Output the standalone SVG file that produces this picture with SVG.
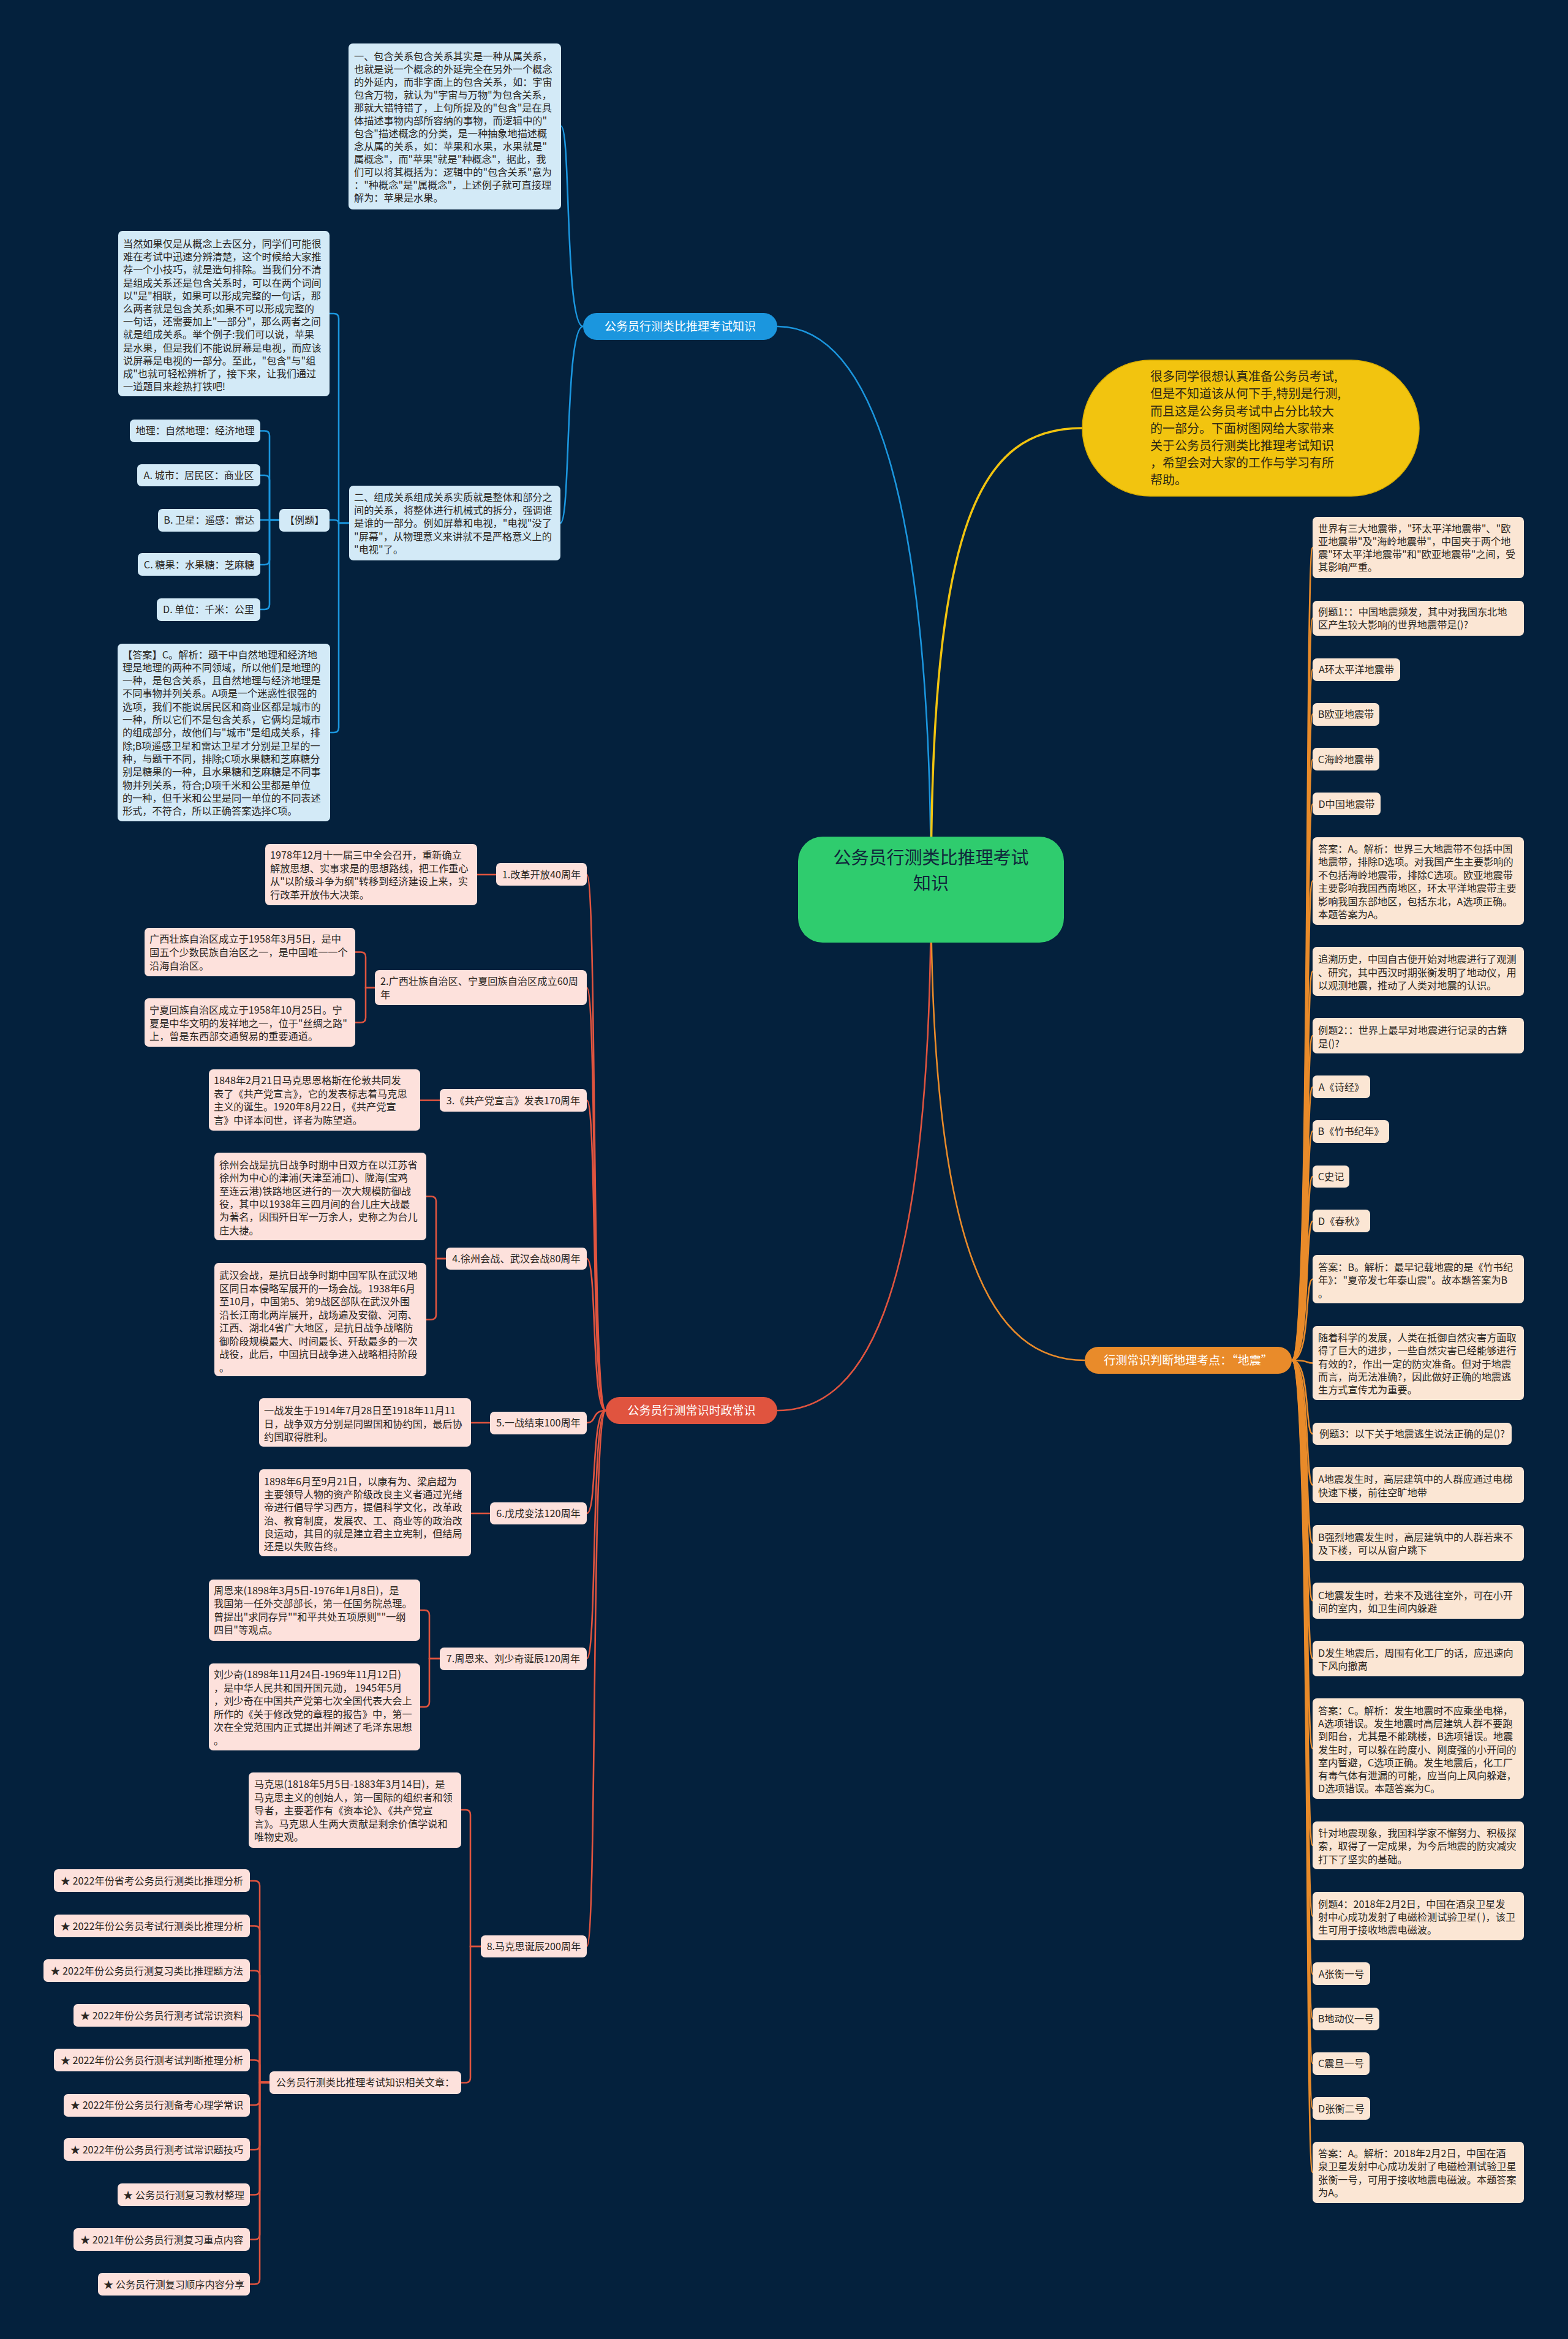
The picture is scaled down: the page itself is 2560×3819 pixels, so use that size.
<svg xmlns="http://www.w3.org/2000/svg" width="2560" height="3819" viewBox="0 0 2560 3819">
<style>
text{font-family:"Noto Sans CJK SC","Noto Sans",sans-serif;font-size:16.2px;fill:#2b2622}
.c{text-anchor:middle}
.bb{fill:#d3eaf7}
.ob{fill:#fbe6d4}
.rb{fill:#fde1dc}
.lb{fill:none;stroke:#1b96de;stroke-width:2.6}
.lo{fill:none;stroke:#e98b2a;stroke-width:2.6}
.lr{fill:none;stroke:#e0543f;stroke-width:2.6}
.ly{fill:none;stroke:#f2c40f;stroke-width:3.5}
.wt{fill:#ffffff;font-size:19px}
</style>
<rect width="2560" height="3819" fill="#04213d"/>
<g id="connectors">
<path class="lb" d="M1520 1452 C1520 800 1420 533 1269 533"/>
<path class="ly" d="M1520 1452 C1520 850 1600 699 1767 699"/>
<path class="lr" d="M1520 1452 C1520 2100 1420 2303 1269 2303"/>
<path class="lo" d="M1520 1452 C1520 2050 1620 2221 1771 2221"/>
<path class="lb" d="M952 533 C922 533 932 206 916 206"/>
<path class="lb" d="M952 533 C922 533 932 854 915 854"/>
<path class="lb" d="M570 854 H553 V520 Q553 512 545 512 H538"/>
<path class="lb" d="M570 854 H553 Q553 849 545 849 H538"/>
<path class="lb" d="M570 854 H553 V1188 Q553 1196 545 1196 H539"/>
<path class="lb" d="M456 849 H440 V711.5 Q440 703.5 432 703.5 H425"/>
<path class="lb" d="M456 849 H440 V784 Q440 776 432 776 H425"/>
<path class="lb" d="M456 849 H425"/>
<path class="lb" d="M456 849 H440 V914 Q440 922 432 922 H425"/>
<path class="lb" d="M456 849 H440 V987 Q440 995 432 995 H425"/>
<g class="lo">
<path d="M2109 2221 C2140 2221 2130 894 2143 894"/>
<path d="M2109 2221 C2140 2221 2130 1009.5 2143 1009.5"/>
<path d="M2109 2221 C2140 2221 2130 1093 2143 1093"/>
<path d="M2109 2221 C2140 2221 2130 1166 2143 1166"/>
<path d="M2109 2221 C2140 2221 2130 1240 2143 1240"/>
<path d="M2109 2221 C2140 2221 2130 1313 2143 1313"/>
<path d="M2109 2221 C2140 2221 2130 1438.5 2143 1438.5"/>
<path d="M2109 2221 C2140 2221 2130 1586 2143 1586"/>
<path d="M2109 2221 C2140 2221 2130 1691 2143 1691"/>
<path d="M2109 2221 C2140 2221 2130 1775 2143 1775"/>
<path d="M2109 2221 C2140 2221 2130 1847 2143 1847"/>
<path d="M2109 2221 C2140 2221 2130 1921 2143 1921"/>
<path d="M2109 2221 C2140 2221 2130 1994 2143 1994"/>
<path d="M2109 2221 C2140 2221 2130 2088.5 2143 2088.5"/>
<path d="M2109 2221 C2140 2221 2130 2225.5 2143 2225.5"/>
<path d="M2109 2221 C2140 2221 2130 2341 2143 2341"/>
<path d="M2109 2221 C2140 2221 2130 2424.5 2143 2424.5"/>
<path d="M2109 2221 C2140 2221 2130 2519.5 2143 2519.5"/>
<path d="M2109 2221 C2140 2221 2130 2613.5 2143 2613.5"/>
<path d="M2109 2221 C2140 2221 2130 2708 2143 2708"/>
<path d="M2109 2221 C2140 2221 2130 2855 2143 2855"/>
<path d="M2109 2221 C2140 2221 2130 3013 2143 3013"/>
<path d="M2109 2221 C2140 2221 2130 3128.5 2143 3128.5"/>
<path d="M2109 2221 C2140 2221 2130 3223 2143 3223"/>
<path d="M2109 2221 C2140 2221 2130 3296 2143 3296"/>
<path d="M2109 2221 C2140 2221 2130 3369 2143 3369"/>
<path d="M2109 2221 C2140 2221 2130 3442.5 2143 3442.5"/>
<path d="M2109 2221 C2140 2221 2130 3547 2143 3547"/>
</g>
<g class="lr">
<path d="M989 2303 C965 2303 975 1428 958 1428"/>
<path d="M989 2303 C965 2303 975 1612.5 958 1612.5"/>
<path d="M989 2303 C965 2303 975 1796.6 958 1796.6"/>
<path d="M989 2303 C965 2303 975 2055 958 2055"/>
<path d="M989 2303 C965 2303 975 2323 958 2323"/>
<path d="M989 2303 C965 2303 975 2471 958 2471"/>
<path d="M989 2303 C965 2303 975 2708 958 2708"/>
<path d="M989 2303 C965 2303 975 3178 958 3178"/>
<path d="M810 1428 H779"/>
<path d="M612 1612.5 H597 V1562.5 Q597 1554.5 589 1554.5 H580"/>
<path d="M612 1612.5 H597 V1661.5 Q597 1669.5 589 1669.5 H580"/>
<path d="M718 1796.6 H686"/>
<path d="M728 2055 H712 V1961.5 Q712 1953.5 704 1953.5 H696"/>
<path d="M728 2055 H712 V2146.5 Q712 2154.5 704 2154.5 H696"/>
<path d="M800 2323 H769"/>
<path d="M800 2471 H769"/>
<path d="M718 2708 H701 V2637 Q701 2629 693 2629 H686"/>
<path d="M718 2708 H701 V2779 Q701 2787 693 2787 H686"/>
<path d="M785 3178 H768 V2963 Q768 2955 760 2955 H753"/>
<path d="M785 3178 H768 V3392.5 Q768 3400.5 760 3400.5 H753"/>
<path d="M440 3400 H424 V3079 Q424 3071 416 3071 H408"/>
<path d="M440 3400 H424 V3152.5 Q424 3144.5 416 3144.5 H408"/>
<path d="M440 3400 H424 V3225.5 Q424 3217.5 416 3217.5 H408"/>
<path d="M440 3400 H424 V3298.5 Q424 3290.5 416 3290.5 H408"/>
<path d="M440 3400 H424 V3371.5 Q424 3363.5 416 3363.5 H408"/>
<path d="M440 3400 H424 V3429 Q424 3437 416 3437 H408"/>
<path d="M440 3400 H424 V3502 Q424 3510 416 3510 H408"/>
<path d="M440 3400 H424 V3575.5 Q424 3583.5 416 3583.5 H408"/>
<path d="M440 3400 H424 V3648.5 Q424 3656.5 416 3656.5 H408"/>
<path d="M440 3400 H424 V3721.5 Q424 3729.5 416 3729.5 H408"/>
</g>
</g>

<g id="center">
<rect x="1303" y="1366" width="434" height="173" rx="40" fill="#2fcc6e"/>
<text class="c" x="1520" style="font-size:29px;fill:#10263b"><tspan x="1520" y="1411">公务员行测类比推理考试</tspan><tspan x="1520" y="1453">知识</tspan></text>
</g>

<g id="intro">
<rect x="1767" y="588" width="550" height="222" rx="111" fill="#f2c40f" stroke="#d9ad00" stroke-width="1.5"/>
<text style="font-size:20px;fill:#2d2816"><tspan x="1878" y="622">很多同学很想认真准备公务员考试,</tspan><tspan x="1878" y="650">但是不知道该从何下手,特别是行测,</tspan><tspan x="1878" y="679">而且这是公务员考试中占分比较大</tspan><tspan x="1878" y="707">的一部分。下面树图网给大家带来</tspan><tspan x="1878" y="735">关于公务员行测类比推理考试知识</tspan><tspan x="1878" y="763">，希望会对大家的工作与学习有所</tspan><tspan x="1878" y="791">帮助。</tspan></text>
</g>

<g id="branch-blue">
<rect x="952" y="511" width="317" height="44" rx="22" fill="#1b96de"/>
<text class="c wt" x="1110.5" y="540">公务员行测类比推理考试知识</text>
</g>
<g id="branch-red">
<rect x="989" y="2281" width="280" height="44" rx="22" fill="#e0543f"/>
<text class="c wt" x="1129" y="2310">公务员行测常识时政常识</text>
</g>
<g id="branch-orange">
<rect x="1771" y="2199" width="338" height="44" rx="22" fill="#e98b2a"/>
<text class="c wt" x="1940" y="2228">行测常识判断地理考点：“地震”</text>
</g>

<g id="b1"><rect class="bb" x="569" y="71" width="347" height="271" rx="7"/>
<text><tspan x="578" y="98">一、包含关系包含关系其实是一种从属关系，</tspan><tspan x="578" y="119">也就是说一个概念的外延完全在另外一个概念</tspan><tspan x="578" y="140">的外延内，而非字面上的包含关系，如：宇宙</tspan><tspan x="578" y="161">包含万物，就认为"宇宙与万物"为包含关系，</tspan><tspan x="578" y="182">那就大错特错了，上句所提及的"包含"是在具</tspan><tspan x="578" y="203">体描述事物内部所容纳的事物，而逻辑中的"</tspan><tspan x="578" y="224">包含"描述概念的分类，是一种抽象地描述概</tspan><tspan x="578" y="245">念从属的关系，如：苹果和水果，水果就是"</tspan><tspan x="578" y="266">属概念"，而"苹果"就是"种概念"，据此，我</tspan><tspan x="578" y="287">们可以将其概括为：逻辑中的"包含关系"意为</tspan><tspan x="578" y="308">："种概念"是"属概念"，上述例子就可直接理</tspan><tspan x="578" y="329">解为：苹果是水果。</tspan></text></g>

<g id="b2"><rect class="bb" x="193" y="377" width="345" height="270" rx="7"/>
<text><tspan x="201" y="404">当然如果仅是从概念上去区分，同学们可能很</tspan><tspan x="201" y="425.2">难在考试中迅速分辨清楚，这个时候给大家推</tspan><tspan x="201" y="446.4">荐一个小技巧，就是造句排除。当我们分不清</tspan><tspan x="201" y="467.6">是组成关系还是包含关系时，可以在两个词间</tspan><tspan x="201" y="488.8">以"是"相联，如果可以形成完整的一句话，那</tspan><tspan x="201" y="510">么两者就是包含关系;如果不可以形成完整的</tspan><tspan x="201" y="531.2">一句话，还需要加上"一部分"，那么两者之间</tspan><tspan x="201" y="552.4">就是组成关系。举个例子:我们可以说，苹果</tspan><tspan x="201" y="573.6">是水果，但是我们不能说屏幕是电视，而应该</tspan><tspan x="201" y="594.8">说屏幕是电视的一部分。至此，"包含"与"组</tspan><tspan x="201" y="616">成"也就可轻松辨析了，接下来，让我们通过</tspan><tspan x="201" y="637.2">一道题目来趁热打铁吧!</tspan></text></g>

<g id="b3"><rect class="bb" x="570" y="793" width="345" height="122" rx="7"/>
<text><tspan x="578" y="818">二、组成关系组成关系实质就是整体和部分之</tspan><tspan x="578" y="839.2">间的关系，将整体进行机械式的拆分，强调谁</tspan><tspan x="578" y="860.4">是谁的一部分。例如屏幕和电视，"电视"没了</tspan><tspan x="578" y="881.6">"屏幕"，从物理意义来讲就不是严格意义上的</tspan><tspan x="578" y="902.8">"电视"了。</tspan></text></g>

<g id="b-liti"><rect class="bb" x="456" y="831" width="82" height="37" rx="7"/><text class="c" x="497" y="855">【例题】</text></g>
<g id="b-q0"><rect class="bb" x="212" y="685" width="213" height="37" rx="7"/><text class="c" x="318.5" y="709">地理：自然地理：经济地理</text></g>
<g id="b-qa"><rect class="bb" x="224" y="758" width="201" height="36" rx="7"/><text class="c" x="324.5" y="782">A. 城市：居民区：商业区</text></g>
<g id="b-qb"><rect class="bb" x="258" y="831" width="167" height="37" rx="7"/><text class="c" x="341.5" y="855">B. 卫星：遥感：雷达</text></g>
<g id="b-qc"><rect class="bb" x="225" y="903" width="200" height="37" rx="7"/><text class="c" x="325" y="928">C. 糖果：水果糖：芝麻糖</text></g>
<g id="b-qd"><rect class="bb" x="256" y="977" width="169" height="37" rx="7"/><text class="c" x="340.5" y="1001">D. 单位：千米：公里</text></g>

<g id="b4"><rect class="bb" x="192" y="1051" width="347" height="290" rx="7"/>
<text><tspan x="200" y="1074.5">【答案】C。解析：题干中自然地理和经济地</tspan><tspan x="200" y="1095.8">理是地理的两种不同领域，所以他们是地理的</tspan><tspan x="200" y="1117.1">一种，是包含关系，且自然地理与经济地理是</tspan><tspan x="200" y="1138.4">不同事物并列关系。A项是一个迷惑性很强的</tspan><tspan x="200" y="1159.7">选项，我们不能说居民区和商业区都是城市的</tspan><tspan x="200" y="1181">一种，所以它们不是包含关系，它俩均是城市</tspan><tspan x="200" y="1202.3">的组成部分，故他们与"城市"是组成关系，排</tspan><tspan x="200" y="1223.6">除;B项遥感卫星和雷达卫星才分别是卫星的一</tspan><tspan x="200" y="1244.9">种，与题干不同，排除;C项水果糖和芝麻糖分</tspan><tspan x="200" y="1266.2">别是糖果的一种，且水果糖和芝麻糖是不同事</tspan><tspan x="200" y="1287.5">物并列关系，符合;D项千米和公里都是单位</tspan><tspan x="200" y="1308.8">的一种，但千米和公里是同一单位的不同表述</tspan><tspan x="200" y="1330.1">形式，不符合，所以正确答案选择C项。</tspan></text></g>

<g id="r1"><rect class="ob" x="2143" y="844" width="345" height="100" rx="7"/>
<text><tspan x="2152" y="869">世界有三大地震带，"环太平洋地震带"、"欧</tspan><tspan x="2152" y="890">亚地震带"及"海岭地震带"，中国夹于两个地</tspan><tspan x="2152" y="911">震"环太平洋地震带"和"欧亚地震带"之间，受</tspan><tspan x="2152" y="932">其影响严重。</tspan></text></g>
<g id="r2"><rect class="ob" x="2143" y="981" width="345" height="57" rx="7"/>
<text><tspan x="2152" y="1005">例题1：：中国地震频发，其中对我国东北地</tspan><tspan x="2152" y="1026">区产生较大影响的世界地震带是()?</tspan></text></g>
<g id="r3"><rect class="ob" x="2143" y="1075" width="143" height="37" rx="7"/><text class="c" x="2214.5" y="1099">A环太平洋地震带</text></g>
<g id="r4"><rect class="ob" x="2143" y="1148" width="109" height="37" rx="7"/><text class="c" x="2197.5" y="1172">B欧亚地震带</text></g>
<g id="r5"><rect class="ob" x="2143" y="1221" width="109" height="37" rx="7"/><text class="c" x="2197.5" y="1246">C海岭地震带</text></g>
<g id="r6"><rect class="ob" x="2143" y="1294" width="111" height="37" rx="7"/><text class="c" x="2198.5" y="1319">D中国地震带</text></g>
<g id="r7"><rect class="ob" x="2143" y="1367" width="345" height="143" rx="7"/>
<text><tspan x="2152" y="1392">答案：A。解析：世界三大地震带不包括中国</tspan><tspan x="2152" y="1413.4">地震带，排除D选项。对我国产生主要影响的</tspan><tspan x="2152" y="1434.8">不包括海岭地震带，排除C选项。欧亚地震带</tspan><tspan x="2152" y="1456.2">主要影响我国西南地区，环太平洋地震带主要</tspan><tspan x="2152" y="1477.6">影响我国东部地区，包括东北，A选项正确。</tspan><tspan x="2152" y="1499">本题答案为A。</tspan></text></g>
<g id="r8"><rect class="ob" x="2143" y="1546" width="345" height="80" rx="7"/>
<text><tspan x="2152" y="1572">追溯历史，中国自古便开始对地震进行了观测</tspan><tspan x="2152" y="1593.5">、研究，其中西汉时期张衡发明了地动仪，用</tspan><tspan x="2152" y="1615">以观测地震，推动了人类对地震的认识。</tspan></text></g>
<g id="r9"><rect class="ob" x="2143" y="1662" width="345" height="58" rx="7"/>
<text><tspan x="2152" y="1688">例题2：：世界上最早对地震进行记录的古籍</tspan><tspan x="2152" y="1709.5">是()?</tspan></text></g>
<g id="r10"><rect class="ob" x="2143" y="1756" width="94" height="37" rx="7"/><text class="c" x="2190" y="1781">A《诗经》</text></g>
<g id="r11"><rect class="ob" x="2143" y="1829" width="125" height="37" rx="7"/><text class="c" x="2205.5" y="1853">B《竹书纪年》</text></g>
<g id="r12"><rect class="ob" x="2143" y="1903" width="60" height="36" rx="7"/><text class="c" x="2173" y="1927">C史记</text></g>
<g id="r13"><rect class="ob" x="2143" y="1975" width="94" height="37" rx="7"/><text class="c" x="2190" y="2000">D《春秋》</text></g>
<g id="r14"><rect class="ob" x="2143" y="2049" width="345" height="79" rx="7"/>
<text><tspan x="2152" y="2075">答案：B。解析：最早记载地震的是《竹书纪</tspan><tspan x="2152" y="2096.4">年》："夏帝发七年泰山震"。故本题答案为B</tspan><tspan x="2152" y="2117.8">。</tspan></text></g>
<g id="r15"><rect class="ob" x="2143" y="2165" width="345" height="121" rx="7"/>
<text><tspan x="2152" y="2190">随着科学的发展，人类在抵御自然灾害方面取</tspan><tspan x="2152" y="2211.3">得了巨大的进步，一些自然灾害已经能够进行</tspan><tspan x="2152" y="2232.6">有效的?，作出一定的防灾准备。但对于地震</tspan><tspan x="2152" y="2253.9">而言，尚无法准确?，因此做好正确的地震逃</tspan><tspan x="2152" y="2275.2">生方式宣传尤为重要。</tspan></text></g>
<g id="r16"><rect class="ob" x="2143" y="2323" width="325" height="36" rx="7"/><text class="c" x="2305.5" y="2347">例题3：以下关于地震逃生说法正确的是()?</text></g>
<g id="r17"><rect class="ob" x="2143" y="2395" width="345" height="59" rx="7"/>
<text><tspan x="2152" y="2421">A地震发生时，高层建筑中的人群应通过电梯</tspan><tspan x="2152" y="2442.5">快速下楼，前往空旷地带</tspan></text></g>
<g id="r18"><rect class="ob" x="2143" y="2490" width="345" height="59" rx="7"/>
<text><tspan x="2152" y="2516">B强烈地震发生时，高层建筑中的人群若来不</tspan><tspan x="2152" y="2537">及下楼，可以从窗户跳下</tspan></text></g>
<g id="r19"><rect class="ob" x="2143" y="2584" width="345" height="59" rx="7"/>
<text><tspan x="2152" y="2610.6">C地震发生时，若来不及逃往室外，可在小开</tspan><tspan x="2152" y="2632">间的室内，如卫生间内躲避</tspan></text></g>
<g id="r20"><rect class="ob" x="2143" y="2679" width="345" height="58" rx="7"/>
<text><tspan x="2152" y="2704.6">D发生地震后，周围有化工厂的话，应迅速向</tspan><tspan x="2152" y="2726">下风向撤离</tspan></text></g>
<g id="r21"><rect class="ob" x="2143" y="2773" width="345" height="164" rx="7"/>
<text><tspan x="2152" y="2799">答案：C。解析：发生地震时不应乘坐电梯，</tspan><tspan x="2152" y="2820.2">A选项错误。发生地震时高层建筑人群不要跑</tspan><tspan x="2152" y="2841.4">到阳台，尤其是不能跳楼，B选项错误。地震</tspan><tspan x="2152" y="2862.6">发生时，可以躲在跨度小、刚度强的小开间的</tspan><tspan x="2152" y="2883.8">室内暂避，C选项正确。发生地震后，化工厂</tspan><tspan x="2152" y="2905">有毒气体有泄漏的可能，应当向上风向躲避，</tspan><tspan x="2152" y="2926.2">D选项错误。本题答案为C。</tspan></text></g>
<g id="r22"><rect class="ob" x="2143" y="2974" width="345" height="78" rx="7"/>
<text><tspan x="2152" y="2999">针对地震现象，我国科学家不懈努力、积极探</tspan><tspan x="2152" y="3020.3">索，取得了一定成果，为今后地震的防灾减灾</tspan><tspan x="2152" y="3041.6">打下了坚实的基础。</tspan></text></g>
<g id="r23"><rect class="ob" x="2143" y="3089" width="345" height="79" rx="7"/>
<text><tspan x="2152" y="3114.6">例题4：2018年2月2日，中国在酒泉卫星发</tspan><tspan x="2152" y="3136">射中心成功发射了电磁检测试验卫星( )，该卫</tspan><tspan x="2152" y="3157">生可用于接收地震电磁波。</tspan></text></g>
<g id="r24"><rect class="ob" x="2143" y="3204" width="94" height="37" rx="7"/><text class="c" x="2190" y="3229">A张衡一号</text></g>
<g id="r25"><rect class="ob" x="2143" y="3278" width="109" height="37" rx="7"/><text class="c" x="2197.5" y="3302">B地动仪一号</text></g>
<g id="r26"><rect class="ob" x="2143" y="3351" width="93" height="37" rx="7"/><text class="c" x="2189.5" y="3375">C震旦一号</text></g>
<g id="r27"><rect class="ob" x="2143" y="3424" width="94" height="37" rx="7"/><text class="c" x="2190" y="3448.5">D张衡二号</text></g>
<g id="r28"><rect class="ob" x="2143" y="3497" width="345" height="100" rx="7"/>
<text><tspan x="2152" y="3522">答案：A。解析：2018年2月2日，中国在酒</tspan><tspan x="2152" y="3543.4">泉卫星发射中心成功发射了电磁检测试验卫星</tspan><tspan x="2152" y="3564.8">张衡一号，可用于接收地震电磁波。本题答案</tspan><tspan x="2152" y="3586.2">为A。</tspan></text></g>

<g id="t1"><rect class="rb" x="433" y="1378" width="346" height="100" rx="7"/>
<text><tspan x="441" y="1402">1978年12月十一届三中全会召开，重新确立</tspan><tspan x="441" y="1423.5">解放思想、实事求是的思想路线，把工作重心</tspan><tspan x="441" y="1445">从"以阶级斗争为纲"转移到经济建设上来，实</tspan><tspan x="441" y="1466.5">行改革开放伟大决策。</tspan></text></g>
<g id="n1"><rect class="rb" x="810" y="1409" width="148" height="37" rx="7"/><text class="c" x="884" y="1434">1.改革开放40周年</text></g>
<g id="t2a"><rect class="rb" x="236" y="1515" width="344" height="79" rx="7"/>
<text><tspan x="244" y="1539">广西壮族自治区成立于1958年3月5日，是中</tspan><tspan x="244" y="1561">国五个少数民族自治区之一，是中国唯一一个</tspan><tspan x="244" y="1583">沿海自治区。</tspan></text></g>
<g id="t2b"><rect class="rb" x="236" y="1630" width="344" height="79" rx="7"/>
<text><tspan x="244" y="1655">宁夏回族自治区成立于1958年10月25日。宁</tspan><tspan x="244" y="1676.5">夏是中华文明的发祥地之一，位于"丝绸之路"</tspan><tspan x="244" y="1698">上，曾是东西部交通贸易的重要通道。</tspan></text></g>
<g id="n2"><rect class="rb" x="612" y="1584" width="346" height="57" rx="7"/>
<text><tspan x="621" y="1608">2.广西壮族自治区、宁夏回族自治区成立60周</tspan><tspan x="621" y="1629.5">年</tspan></text></g>
<g id="t3"><rect class="rb" x="341" y="1746" width="345" height="100" rx="7"/>
<text><tspan x="349" y="1770">1848年2月21日马克思恩格斯在伦敦共同发</tspan><tspan x="349" y="1791.6">表了《共产党宣言》，它的发表标志着马克思</tspan><tspan x="349" y="1813.2">主义的诞生。1920年8月22日，《共产党宣</tspan><tspan x="349" y="1834.8">言》中译本问世，译者为陈望道。</tspan></text></g>
<g id="n3"><rect class="rb" x="718" y="1778" width="240" height="37" rx="7"/><text class="c" x="838" y="1802.6">3.《共产党宣言》发表170周年</text></g>
<g id="t4a"><rect class="rb" x="350" y="1882" width="346" height="143" rx="7"/>
<text><tspan x="358" y="1908">徐州会战是抗日战争时期中日双方在以江苏省</tspan><tspan x="358" y="1929.3">徐州为中心的津浦(天津至浦口)、陇海(宝鸡</tspan><tspan x="358" y="1950.6">至连云港)铁路地区进行的一次大规模防御战</tspan><tspan x="358" y="1971.9">役，其中以1938年三四月间的台儿庄大战最</tspan><tspan x="358" y="1993.2">为著名，因围歼日军一万余人，史称之为台儿</tspan><tspan x="358" y="2014.5">庄大捷。</tspan></text></g>
<g id="n4"><rect class="rb" x="728" y="2037" width="230" height="36" rx="7"/><text class="c" x="843" y="2061">4.徐州会战、武汉会战80周年</text></g>
<g id="t4b"><rect class="rb" x="350" y="2062" width="346" height="185" rx="7"/>
<text><tspan x="358" y="2088">武汉会战，是抗日战争时期中国军队在武汉地</tspan><tspan x="358" y="2109.5">区同日本侵略军展开的一场会战。1938年6月</tspan><tspan x="358" y="2131">至10月，中国第5、第9战区部队在武汉外围</tspan><tspan x="358" y="2152.5">沿长江南北两岸展开，战场遍及安徽、河南、</tspan><tspan x="358" y="2174">江西、湖北4省广大地区，是抗日战争战略防</tspan><tspan x="358" y="2195.5">御阶段规模最大、时间最长、歼敌最多的一次</tspan><tspan x="358" y="2217">战役，此后，中国抗日战争进入战略相持阶段</tspan><tspan x="358" y="2238.5">。</tspan></text></g>
<g id="t5"><rect class="rb" x="423" y="2283" width="346" height="79" rx="7"/>
<text><tspan x="431" y="2309">一战发生于1914年7月28日至1918年11月11</tspan><tspan x="431" y="2330.5">日，战争双方分别是同盟国和协约国，最后协</tspan><tspan x="431" y="2352">约国取得胜利。</tspan></text></g>
<g id="n5"><rect class="rb" x="800" y="2305" width="158" height="37" rx="7"/><text class="c" x="879" y="2329">5.一战结束100周年</text></g>
<g id="t6"><rect class="rb" x="423" y="2399" width="346" height="142" rx="7"/>
<text><tspan x="431" y="2425">1898年6月至9月21日，以康有为、梁启超为</tspan><tspan x="431" y="2446.2">主要领导人物的资产阶级改良主义者通过光绪</tspan><tspan x="431" y="2467.4">帝进行倡导学习西方，提倡科学文化，改革政</tspan><tspan x="431" y="2488.6">治、教育制度，发展农、工、商业等的政治改</tspan><tspan x="431" y="2509.8">良运动，其目的就是建立君主立宪制，但结局</tspan><tspan x="431" y="2531">还是以失败告终。</tspan></text></g>
<g id="n6"><rect class="rb" x="800" y="2453" width="158" height="36" rx="7"/><text class="c" x="879" y="2477">6.戊戌变法120周年</text></g>
<g id="t7a"><rect class="rb" x="341" y="2579" width="345" height="100" rx="7"/>
<text><tspan x="349" y="2603">周恩来(1898年3月5日-1976年1月8日)，是</tspan><tspan x="349" y="2624.3">我国第一任外交部部长，第一任国务院总理。</tspan><tspan x="349" y="2645.6">曾提出"求同存异""和平共处五项原则""一纲</tspan><tspan x="349" y="2666.9">四目"等观点。</tspan></text></g>
<g id="n7"><rect class="rb" x="718" y="2690" width="240" height="37" rx="7"/><text class="c" x="838" y="2714">7.周恩来、刘少奇诞辰120周年</text></g>
<g id="t7b"><rect class="rb" x="341" y="2716" width="345" height="142" rx="7"/>
<text><tspan x="349" y="2740">刘少奇(1898年11月24日-1969年11月12日)</tspan><tspan x="349" y="2761.5">，是中华人民共和国开国元勋， 1945年5月</tspan><tspan x="349" y="2783">，刘少奇在中国共产党第七次全国代表大会上</tspan><tspan x="349" y="2804.5">所作的《关于修改党的章程的报告》中，第一</tspan><tspan x="349" y="2826">次在全党范围内正式提出并阐述了毛泽东思想</tspan><tspan x="349" y="2847.5">。</tspan></text></g>
<g id="t8"><rect class="rb" x="406" y="2894" width="347" height="123" rx="7"/>
<text><tspan x="415" y="2919">马克思(1818年5月5日-1883年3月14日)，是</tspan><tspan x="415" y="2940.6">马克思主义的创始人，第一国际的组织者和领</tspan><tspan x="415" y="2962.2">导者，主要著作有《资本论》、《共产党宣</tspan><tspan x="415" y="2983.8">言》。马克思人生两大贡献是剩余价值学说和</tspan><tspan x="415" y="3005.4">唯物史观。</tspan></text></g>
<g id="n8"><rect class="rb" x="785" y="3160" width="173" height="36" rx="7"/><text class="c" x="871.5" y="3184">8.马克思诞辰200周年</text></g>
<g id="art"><rect class="rb" x="440" y="3382" width="313" height="37" rx="7"/><text class="c" x="596.5" y="3406">公务员行测类比推理考试知识相关文章：</text></g>
<g id="l1"><rect class="rb" x="88" y="3052" width="320" height="37" rx="7"/><text class="c" x="248" y="3077">★ 2022年份省考公务员行测类比推理分析</text></g>
<g id="l2"><rect class="rb" x="88" y="3126" width="320" height="37" rx="7"/><text class="c" x="248" y="3150.5">★ 2022年份公务员考试行测类比推理分析</text></g>
<g id="l3"><rect class="rb" x="71" y="3199" width="337" height="37" rx="7"/><text class="c" x="239.5" y="3223.5">★ 2022年份公务员行测复习类比推理题方法</text></g>
<g id="l4"><rect class="rb" x="120" y="3272" width="288" height="37" rx="7"/><text class="c" x="264" y="3296.5">★ 2022年份公务员行测考试常识资料</text></g>
<g id="l5"><rect class="rb" x="88" y="3345" width="320" height="37" rx="7"/><text class="c" x="248" y="3369.5">★ 2022年份公务员行测考试判断推理分析</text></g>
<g id="l6"><rect class="rb" x="104" y="3419" width="304" height="37" rx="7"/><text class="c" x="256" y="3443">★ 2022年份公务员行测备考心理学常识</text></g>
<g id="l7"><rect class="rb" x="104" y="3491" width="304" height="37" rx="7"/><text class="c" x="256" y="3516">★ 2022年份公务员行测考试常识题技巧</text></g>
<g id="l8"><rect class="rb" x="192" y="3565" width="216" height="37" rx="7"/><text class="c" x="300" y="3589.5">★ 公务员行测复习教材整理</text></g>
<g id="l9"><rect class="rb" x="120" y="3638" width="288" height="37" rx="7"/><text class="c" x="264" y="3662.5">★ 2021年份公务员行测复习重点内容</text></g>
<g id="l10"><rect class="rb" x="160" y="3711" width="248" height="37" rx="7"/><text class="c" x="284" y="3735.5">★ 公务员行测复习顺序内容分享</text></g>
</svg>
